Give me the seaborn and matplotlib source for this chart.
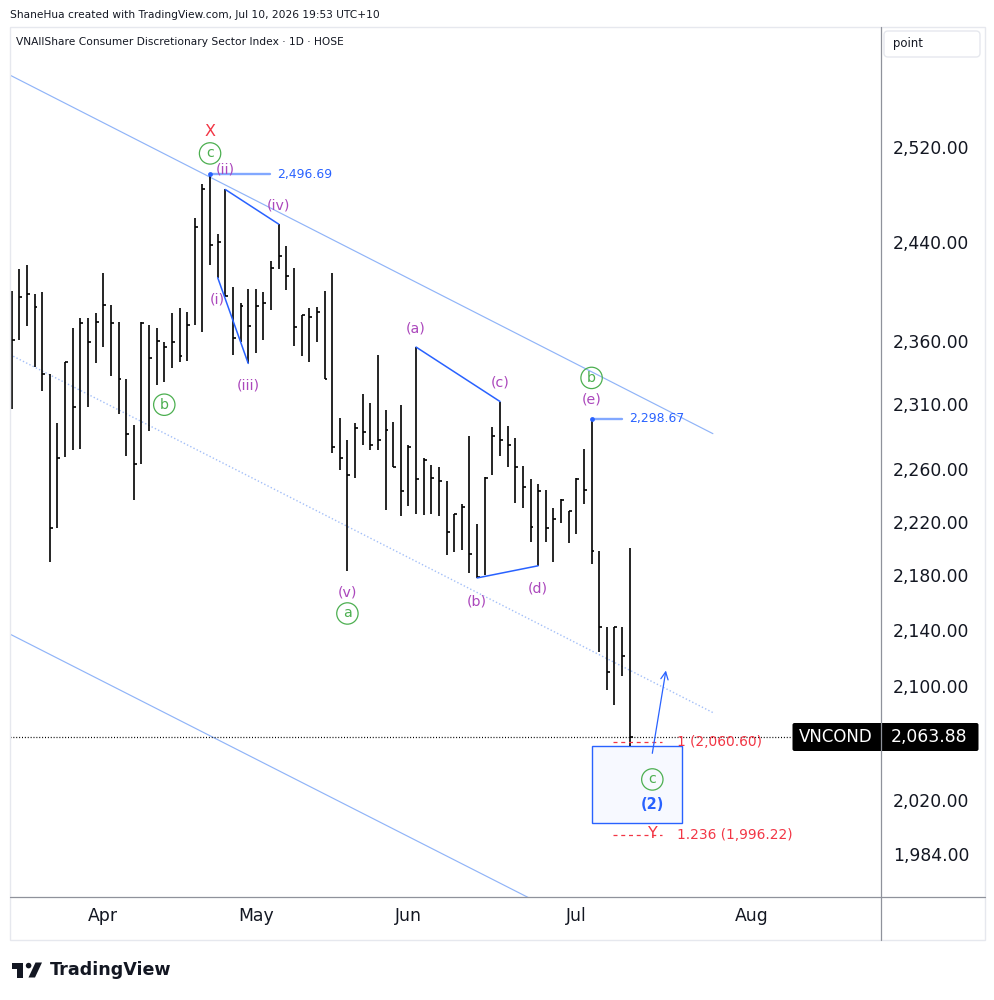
import numpy as np
import pandas as pd
import seaborn as sns
import matplotlib.pyplot as plt
from matplotlib.lines import Line2D
from matplotlib.patches import Rectangle, FancyBboxPatch, Polygon, Circle
from matplotlib.transforms import IdentityTransform
from matplotlib.ticker import FixedLocator, NullLocator, FuncFormatter

# daily HLC bars, bar 0 = first visible bar, bar 12 = Apr 1, bar 81 = Jul 10
highs = [2400, 2418, 2421, 2398, 2399, 2334, 2295, 2343, 2370, 2378,
         2378, 2382, 2415, 2389, 2375, 2330, 2294, 2375, 2373, 2370,
         2359, 2382, 2386, 2383, 2460, 2489, 2496.69, 2447, 2484, 2403,
         2390, 2402, 2402, 2399, 2425, 2455, 2437, 2419, 2381, 2386,
         2387, 2400, 2415, 2299, 2282, 2295, 2318, 2311, 2349, 2305,
         2296, 2309, 2278, 2355, 2268, 2263, 2261, 2251, 2226, 2233,
         2285, 2218, 2254, 2292, 2312, 2293, 2284, 2262, 2252, 2248,
         2244, 2230, 2237, 2228, 2253, 2275, 2298.67, 2198, 2142, 2142,
         2142, 2200]
lows = [2306, 2361, 2372, 2339, 2320, 2190, 2215, 2269, 2274, 2275,
        2308, 2342, 2355, 2332, 2302, 2270, 2236, 2264, 2289, 2325,
        2327, 2338, 2343, 2344, 2373, 2367, 2421, 2411, 2396, 2349,
        2359, 2342, 2350, 2361, 2385, 2418, 2401, 2356, 2348, 2343,
        2359, 2330, 2272, 2259, 2183, 2253, 2278, 2274, 2274, 2229,
        2261, 2224, 2232, 2226, 2225, 2226, 2224, 2195, 2197, 2199,
        2182, 2178, 2180, 2255, 2270, 2261, 2234, 2230, 2205, 2187,
        2205, 2190, 2219, 2204, 2211, 2233, 2188, 2124, 2097, 2086,
        2107, 2057.5]
closes = [2361, 2395, 2398, 2387, 2334, 2215, 2268, 2343, 2308, 2374,
          2359, 2375, 2389, 2374, 2330, 2287, 2264, 2374, 2346, 2360,
          2355, 2359, 2348, 2373, 2453, 2484, 2438, 2440, 2396, 2362,
          2388, 2372, 2388, 2390, 2419, 2429, 2412, 2371, 2381, 2379,
          2383, 2330, 2277, 2268, 2255, 2291, 2288, 2278, 2282, 2290,
          2261, 2243, 2277, 2252, 2267, 2253, 2251, 2212, 2226, 2231,
          2196, 2179, 2253, 2285, 2282, 2278, 2261, 2246, 2216, 2243,
          2215, 2222, 2236, 2228, 2252, 2244, 2198, 2142, 2110, 2142,
          2121, 2063.88]

last_price = 2063.88
price_ticks = [1984, 2020, 2100, 2140, 2180, 2220, 2260, 2310, 2360, 2440, 2520]
month_names = ["Apr", "May", "Jun", "Jul", "Aug"]
month_pos = [12, 32, 52, 74, 97]

# price notes on swing highs: bar, end of the note line
note_bars = [26, 76]
note_ends = [33.85, 79.95]

# wave legs: (bar a, bar b, side)
legs = [(27, 31, "low"), (28, 35, "high"), (53, 64, "high"), (61, 69, "low")]

channel_upper = ([-0.22, 91.9], [2582, 2287])
channel_mid = ([-0.22, 91.9], [2349, 2081])
channel_lower = ([-0.22, 68.0], [2137, 1954])

fib_ratios = ["1", "1.236"]
fib_levels = [2060.60, 1996.22]
fib_span = [78.8, 85.2]

box_x = [76.0, 87.9]
box_y = [2004.5, 2057.5]
arrow_x = [83.9, 85.8]
arrow_y = [2050.6, 2112.8]

# (text, bar, side, offset below anchor in px, kind)
wave_labels = [
    ("X", 26, "high", -43, "red"),
    ("c", 26, "high", -21, "circle"),
    ("(ii)", 28, "high", -19.5, "wave"),
    ("(iv)", 35, "high", -19, "wave"),
    ("(i)", 27, "low", 21.5, "wave"),
    ("(iii)", 31, "low", 22.5, "wave"),
    ("b", 20, "low", 22.3, "circle"),
    ("(v)", 44, "low", 21.6, "wave"),
    ("a", 44, "low", 42.3, "circle"),
    ("(a)", 53, "high", -19, "wave"),
    ("(c)", 64, "high", -19.4, "wave"),
    ("(b)", 61, "low", 23.4, "wave"),
    ("(d)", 69, "low", 23, "wave"),
    ("b", 76, "high", -40.7, "circle"),
    ("(e)", 76, "high", -19, "wave"),
]

purple = "#ab47bc"
green = "#4caf50"
red = "#f23645"
blue = "#2962ff"
ink = "#131722"

sns.set_theme(style="white")
plt.rcParams["font.family"] = ["DejaVu Sans"]

W, H = 994, 1000
fig = plt.figure(figsize=(W / 100, H / 100), dpi=100)
fig.patch.set_facecolor("white")
ax = fig.add_axes([10 / W, 1 - 897 / H, 870 / W, 870 / H])
ax.set_facecolor("white")
ax.set_yscale("log")
ax.set_xlim(-0.22, 113.8)
ax.set_ylim(1955.1, 2624.4)
for s in ax.spines.values():
    s.set_visible(False)

ax.yaxis.set_major_locator(FixedLocator(price_ticks))
ax.yaxis.set_minor_locator(NullLocator())
ax.yaxis.set_major_formatter(FuncFormatter(lambda v, p: f"{v:,.2f}"))
ax.yaxis.tick_right()
ax.tick_params(axis="y", length=0, pad=9.5, labelsize=12.4, labelcolor=ink)
ax.set_xticks(month_pos)
ax.set_xticklabels(month_names)
ax.tick_params(axis="x", length=0, pad=7.5, labelsize=12.4, labelcolor=ink)
ax.grid(False)

bars = pd.DataFrame({"high": highs, "low": lows, "close": closes})
bars["i"] = np.arange(len(bars))
ax.vlines(bars["i"], bars["low"], bars["high"], color="black", lw=1.2, zorder=3)
ax.hlines(bars["close"], bars["i"], bars["i"] + 0.38, color="black", lw=1.2, zorder=3)

# channel
for xs, ys in [channel_upper, channel_lower]:
    sns.lineplot(x=xs, y=ys, ax=ax, color="#90b4f8", lw=0.85, estimator=None, sort=False)
ax.plot(channel_mid[0], channel_mid[1], color="#a3bff8", lw=1.0, ls=(0, (1, 1.6)))

# last price line
ax.axhline(last_price, xmax=(792 - 10) / 870, color="black", lw=0.9, ls=(0, (0.8, 1.5)), zorder=2)

# wave legs
for a, b, side in legs:
    src = highs if side == "high" else lows
    ax.plot([a, b], [src[a], src[b]], color=blue, lw=1.1, zorder=4)

# price notes
for i, end in zip(note_bars, note_ends):
    ax.plot([i, end], [highs[i], highs[i]], color="#82a8ff", lw=1.7, zorder=4)
    ax.scatter([i], [highs[i]], s=12, color=blue, zorder=5, linewidths=0)
    ax.text(end + 1.0, highs[i], f"{highs[i]:,.2f}", color=blue, fontsize=8.9,
            ha="left", va="center", zorder=5)

# target box and arrow
ax.add_patch(Rectangle((box_x[0], box_y[0]), box_x[1] - box_x[0], box_y[1] - box_y[0],
                       fc="#f7f9ff", ec=blue, lw=1.0, zorder=2))
ax.annotate("", xy=(arrow_x[1], arrow_y[1]), xytext=(arrow_x[0], arrow_y[0]),
            arrowprops=dict(arrowstyle="->,head_length=0.45,head_width=0.22", color=blue, lw=0.9),
            zorder=5)

# fib extension levels
for ratio, level in zip(fib_ratios, fib_levels):
    ax.hlines(level, fib_span[0], fib_span[1], color=red, lw=0.9, linestyles=(0, (3.2, 3.0)), zorder=4)
    ax.text(87.15, level, f"{ratio} ({level:,.2f})", color=red, fontsize=9.9,
            ha="left", va="center", zorder=5)

# wave labels
for text, i, side, dy, kind in wave_labels:
    y = highs[i] if side == "high" else lows[i]
    kw = dict(ha="center", va="center", fontsize=10.2, textcoords="offset pixels",
              xytext=(0, -dy), zorder=6)
    if kind == "wave":
        kw["color"] = purple
    elif kind == "red":
        kw["color"] = red
        kw["fontsize"] = 11.5
    else:
        kw["color"] = green
        kw["bbox"] = dict(boxstyle="circle,pad=0.26", fc="none", ec=green, lw=0.9)
    ax.annotate(text, (i, y), **kw)

last = len(highs) - 1
ax.annotate("c", (last, lows[last]), xytext=(22.6, -33.3), textcoords="offset pixels",
            ha="center", va="center", fontsize=10.2, color=green, zorder=6,
            bbox=dict(boxstyle="circle,pad=0.26", fc="none", ec=green, lw=0.9))
ax.annotate("(2)", (last, lows[last]), xytext=(22.6, -58.3), textcoords="offset pixels",
            ha="center", va="center", fontsize=10.5, fontweight="bold", color=blue, zorder=6)
ax.annotate("Y", (last, fib_levels[1]), xytext=(23.6, 2), textcoords="offset pixels",
            ha="center", va="center", fontsize=11.5, color=red, zorder=6)

# ---- frame, scales, last price tag (pixel coordinates)
ident = IdentityTransform()


def hline_px(x0, x1, y, **kw):
    fig.add_artist(Line2D([x0, x1], [H - y, H - y], transform=ident, **kw))


def vline_px(x, y0, y1, **kw):
    fig.add_artist(Line2D([x, x], [H - y0, H - y1], transform=ident, **kw))


fig.add_artist(Rectangle((10, H - 940), 975, 913, fill=False, ec="#e6e8ee", lw=1.0, transform=ident))

y_last = H - ax.transData.transform((0, last_price))[1]
fig.add_artist(FancyBboxPatch((792.5, H - y_last - 14), 186, 28,
                              boxstyle="round,pad=0,rounding_size=2", fc="black", ec="none",
                              transform=ident, zorder=3))
fig.text(836 / W, 1 - y_last / H, "VNCOND", color="white", fontsize=12,
         ha="center", va="center", zorder=4)
fig.text(929.5 / W, 1 - y_last / H, f"{last_price:,.2f}", color="white", fontsize=12.4,
         ha="center", va="center", zorder=4)

vline_px(880.5, 27, 940, color="#8f929b", lw=0.9, zorder=5)
hline_px(10, 985, 896.5, color="#8f929b", lw=0.9, zorder=5)

fig.add_artist(FancyBboxPatch((884, H - 57), 96, 26, boxstyle="round,pad=0,rounding_size=4",
                              fc="white", ec="#e6e8ee", lw=1.0, transform=ident, zorder=3))
fig.text(893 / W, 1 - 44 / H, "point", color=ink, fontsize=8.4, ha="left", va="center", zorder=4)

fig.text(10 / W, 1 - 14.5 / H, "ShaneHua created with TradingView.com, Jul 10, 2026 19:53 UTC+10",
         color=ink, fontsize=7.7, ha="left", va="center")
fig.text(16.5 / W, 1 - 42.3 / H, "VNAllShare Consumer Discretionary Sector Index · 1D · HOSE",
         color=ink, fontsize=7.7, ha="left", va="center")

# TradingView logo
logo = [[(11.5, 962.5), (22.5, 962.5), (22.5, 977.5), (16.8, 977.5), (16.8, 968.5), (11.5, 968.5)],
        [(35.5, 962.5), (42, 962.5), (35, 977.5), (28.5, 977.5)]]
for pts in logo:
    fig.add_artist(Polygon([(x, H - y) for x, y in pts], closed=True, fc=ink, ec="none", transform=ident))
fig.add_artist(Circle((28.6, H - 965.6), 2.8, fc=ink, ec="none", transform=ident))
fig.text(49.5 / W, 1 - 970 / H, "TradingView", color=ink, fontsize=12.6, fontweight="bold",
         ha="left", va="center")

fig.savefig("out.png", dpi=100, facecolor="white")
